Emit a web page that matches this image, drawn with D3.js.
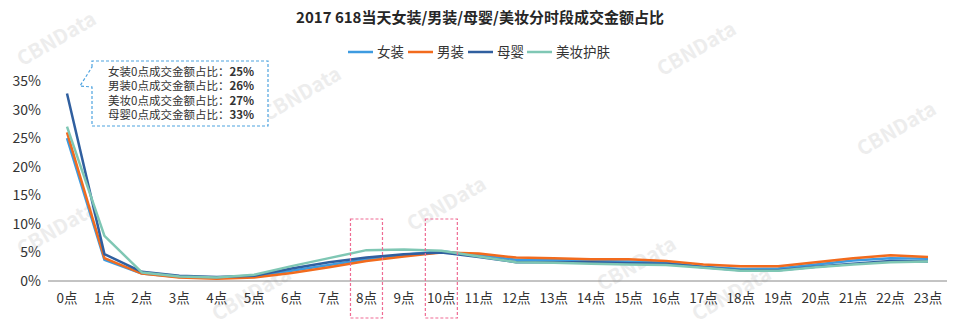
<!DOCTYPE html>
<meta charset="utf-8">
<style>
body { margin: 0; background: #fff; }
text { font-family: "Noto Sans CJK SC", "Noto Sans", sans-serif; }
</style>
<body>
<script src="https://cdnjs.cloudflare.com/ajax/libs/d3/7.8.5/d3.min.js"></script>
<script>

var width = 961,
    height = 329;

var hours = d3.range(24).map(function(h) { return h + "点"; });
var yTicks = [0, 5, 10, 15, 20, 25, 30, 35];

var women  = [25, 3.7, 1.3, 0.7, 0.6, 0.8, 1.8, 2.8, 3.8, 4.6, 5.2, 4.5, 3.7, 3.7, 3.5, 3.4, 3.2, 2.5, 2.1, 2.2, 2.9, 3.6, 4.0, 3.9];
var men    = [26, 4.0, 1.3, 0.6, 0.4, 0.6, 1.4, 2.4, 3.5, 4.3, 5.0, 4.8, 4.1, 4.0, 3.8, 3.8, 3.5, 2.9, 2.6, 2.6, 3.3, 4.0, 4.5, 4.2];
var baby   = [32.8, 4.7, 1.6, 0.9, 0.7, 0.9, 2.2, 3.3, 4.1, 4.7, 5.0, 4.2, 3.3, 3.3, 3.3, 3.1, 3.0, 2.4, 1.9, 1.9, 2.5, 3.0, 3.5, 3.4];
var beauty = [27, 7.9, 1.5, 0.8, 0.6, 1.1, 2.6, 4.0, 5.4, 5.5, 5.3, 4.3, 3.3, 3.2, 3.0, 2.9, 2.8, 2.3, 1.8, 1.8, 2.4, 2.9, 3.3, 3.4];

var seriesNames = ["女装", "男装", "母婴", "美妆护肤"];
var seriesColors = ["#3d9be0", "#f26b1d", "#305f9f", "#7fc7b4"];
var seriesData = [women, men, baby, beauty];

var calloutLines = [
    ["女装0点成交金额占比：", "25%"],
    ["男装0点成交金额占比：", "26%"],
    ["美妆0点成交金额占比：", "27%"],
    ["母婴0点成交金额占比：", "33%"]
];
var highlightHours = ["8点", "10点"];

var svg = d3.select("body").append("svg")
    .attr("width", width)
    .attr("height", height);

// watermarks
var marks = [[60, 45], [305, 100], [450, 210], [60, 235], [640, 270], [700, 55], [900, 135], [255, 300], [735, 300]];
svg.selectAll(".wm").data(marks).enter().append("text")
    .attr("transform", function(d) { return "translate(" + d[0] + "," + d[1] + ") rotate(-30)"; })
    .attr("text-anchor", "middle")
    .style("font-size", "20px")
    .style("font-weight", "bold")
    .style("fill", "#ededed")
    .text("CBNData");

var x = d3.scalePoint().domain(hours).range([67, 928]);
var y = d3.scaleLinear().domain([0, 35]).range([281, 81]);

svg.append("text")
    .attr("x", 480).attr("y", 23)
    .attr("text-anchor", "middle")
    .style("font-size", "15px")
    .style("font-weight", "bold")
    .style("fill", "#262626")
    .text("2017 618当天女装/男装/母婴/美妆分时段成交金额占比");

// y labels
svg.selectAll(".ylab").data(yTicks).enter().append("text")
    .attr("x", 41)
    .attr("y", function(d) { return y(d) + 5; })
    .attr("text-anchor", "end")
    .style("font-size", "14px")
    .style("fill", "#333")
    .text(function(d) { return d + "%"; });

// x axis
svg.append("line")
    .attr("x1", 48).attr("x2", 947)
    .attr("y1", y(0)).attr("y2", y(0))
    .style("stroke", "#888").style("stroke-width", 1);

svg.selectAll(".xlab").data(hours).enter().append("text")
    .attr("x", function(d) { return x(d); })
    .attr("y", 303)
    .attr("text-anchor", "middle")
    .style("font-size", "13.5px")
    .style("fill", "#333")
    .text(function(d) { return d; });

var line = d3.line()
    .x(function(d, i) { return x(hours[i]); })
    .y(function(d) { return y(d); });

svg.selectAll(".series").data(seriesData).enter().append("path")
    .attr("d", line)
    .style("fill", "none")
    .style("stroke", function(d, i) { return seriesColors[i]; })
    .style("stroke-width", 2.5)
    .style("stroke-linejoin", "round");

// highlight boxes
svg.selectAll(".hl").data(highlightHours).enter().append("rect")
    .attr("x", function(d) { return x(d) - 16; })
    .attr("y", 219)
    .attr("width", 32)
    .attr("height", 99)
    .style("fill", "none")
    .style("stroke", "#ef6b93")
    .style("stroke-width", 1.2)
    .style("stroke-dasharray", "3,2");

// legend
var legendX = [348, 408, 468, 527];
var lg = svg.selectAll(".lg").data(seriesNames).enter().append("g")
    .attr("transform", function(d, i) { return "translate(" + legendX[i] + ",52)"; });
lg.append("line")
    .attr("x1", 0).attr("x2", 25)
    .style("stroke", function(d, i) { return seriesColors[i]; })
    .style("stroke-width", 2.5);
lg.append("text")
    .attr("x", 29).attr("y", 5)
    .style("font-size", "13.5px")
    .style("fill", "#333")
    .text(function(d) { return d; });

// callout
svg.append("path")
    .attr("d", "M92,67 V61 H268 V126 H92 V87 L80,86 Z")
    .style("fill", "#fff")
    .style("stroke", "#4ea3e0")
    .style("stroke-width", 1.2)
    .style("stroke-dasharray", "3,2");

var ct = svg.selectAll(".ct").data(calloutLines).enter().append("text")
    .attr("x", 108)
    .attr("y", function(d, i) { return 76 + i * 14.4; })
    .style("font-size", "11.5px")
    .style("fill", "#333");
ct.append("tspan").text(function(d) { return d[0]; });
ct.append("tspan").style("font-weight", "bold").text(function(d) { return d[1]; });

</script>
